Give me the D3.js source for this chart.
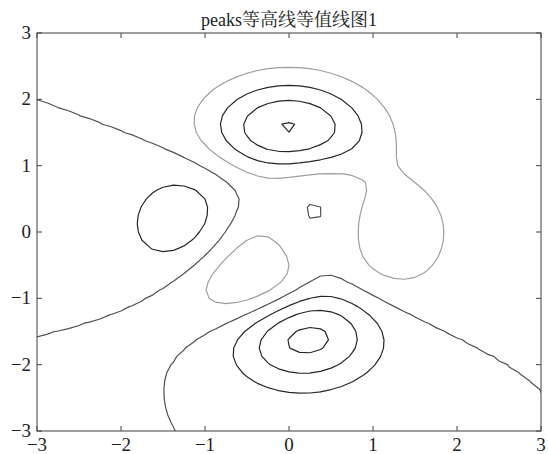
<!DOCTYPE html>
<html>
<head>
<meta charset="utf-8">
<script src="https://cdn.jsdelivr.net/npm/d3@7"></script>
<style>
  body { margin: 0; background: #fff; }
  text { font-family: "Liberation Serif", "Times New Roman", "Noto Serif CJK SC", "Noto Sans CJK SC", serif; }
</style>
</head>
<body>
<script>
// Contour levels and their line colours
const levels = [-6, -4, -2, 0, 2, 4, 6, 8];
const levelColors = ["#262626", "#262626", "#262626", "#505050", "#9e9e9e", "#262626", "#262626", "#262626"];
const xTicks = [-3, -2, -1, 0, 1, 2, 3];
const yTicks = [-3, -2, -1, 0, 1, 2, 3];
const xDomain = [-3, 3];
const yDomain = [-3, 3];
const gridN = 49;          // samples across [-3, 3], as in peaks()
const titleText = "peaks等高线等值线图1";

// peaks surface
function peaks(x, y) {
  const a = (1 - x) * (1 - x), b = (y + 1) * (y + 1), c = (x + 1) * (x + 1);
  return 3 * a * Math.exp(-x * x - b)
       - 10 * (x / 5 - x * x * x - Math.pow(y, 5)) * Math.exp(-x * x - y * y)
       - Math.exp(-c - y * y) / 3;
}

const W = 548, H = 454;
const margin = { left: 37, right: 7, top: 33, bottom: 23 };
const pw = W - margin.left - margin.right;
const ph = H - margin.top - margin.bottom;

const svg = d3.select("body").append("svg").attr("width", W).attr("height", H);

const x = d3.scaleLinear().domain(xDomain).range([margin.left, margin.left + pw]);
const y = d3.scaleLinear().domain(yDomain).range([margin.top + ph, margin.top]);

// sample grid, padded by two cells on every side so edges stay open lines
const step = (xDomain[1] - xDomain[0]) / (gridN - 1);
const pad = 2;
const n = gridN + 2 * pad;
const values = new Array(n * n);
for (let j = 0; j < n; j++) {
  const yy = yDomain[0] + (j - pad) * step;
  for (let i = 0; i < n; i++) {
    const xx = xDomain[0] + (i - pad) * step;
    values[j * n + i] = peaks(xx, yy);
  }
}

const contours = d3.contours().size([n, n]).thresholds(levels)(values);

// grid coordinate -> data coordinate (sample i sits at i + 0.5)
const gx = c => xDomain[0] + (c - 0.5 - pad) * step;
const gy = c => yDomain[0] + (c - 0.5 - pad) * step;
const path = d3.geoPath(d3.geoTransform({
  point: function (px, py) { this.stream.point(x(gx(px)), y(gy(py))); }
}));

svg.append("clipPath").attr("id", "plot-clip")
  .append("rect")
  .attr("x", margin.left).attr("y", margin.top)
  .attr("width", pw).attr("height", ph);

svg.append("g").attr("clip-path", "url(#plot-clip)")
  .selectAll("path")
  .data(contours)
  .join("path")
  .attr("d", path)
  .attr("fill", "none")
  .attr("stroke", d => levelColors[levels.indexOf(d.value)])
  .attr("stroke-width", 1.2)
  .attr("stroke-linejoin", "round");

// frame
svg.append("rect")
  .attr("x", margin.left).attr("y", margin.top)
  .attr("width", pw).attr("height", ph)
  .attr("fill", "none").attr("stroke", "#404040").attr("stroke-width", 1);

const tickLen = 5;
const fmt = v => (v < 0 ? "\u2212" + Math.abs(v) : String(v));

// axes: ticks point inward on all four sides
const axisColor = "#404040";
const gAx = svg.append("g").attr("stroke", axisColor).attr("stroke-width", 1);
xTicks.forEach(t => {
  gAx.append("line").attr("x1", x(t)).attr("x2", x(t))
    .attr("y1", margin.top + ph).attr("y2", margin.top + ph - tickLen);
  gAx.append("line").attr("x1", x(t)).attr("x2", x(t))
    .attr("y1", margin.top).attr("y2", margin.top + tickLen);
});
yTicks.forEach(t => {
  gAx.append("line").attr("y1", y(t)).attr("y2", y(t))
    .attr("x1", margin.left).attr("x2", margin.left + tickLen);
  gAx.append("line").attr("y1", y(t)).attr("y2", y(t))
    .attr("x1", margin.left + pw).attr("x2", margin.left + pw - tickLen);
});

svg.append("g").selectAll("text").data(xTicks).join("text")
  .attr("x", d => x(d)).attr("y", margin.top + ph + 20)
  .attr("text-anchor", "middle").attr("font-size", 19).attr("fill", "#222")
  .text(fmt);

svg.append("g").selectAll("text").data(yTicks).join("text")
  .attr("x", margin.left - 6).attr("y", d => y(d) + 6)
  .attr("text-anchor", "end").attr("font-size", 19).attr("fill", "#222")
  .text(fmt);

svg.append("text")
  .attr("x", margin.left + pw / 2).attr("y", 26)
  .attr("text-anchor", "middle").attr("font-size", 18).attr("fill", "#222")
  .text(titleText);
</script>
</body>
</html>
